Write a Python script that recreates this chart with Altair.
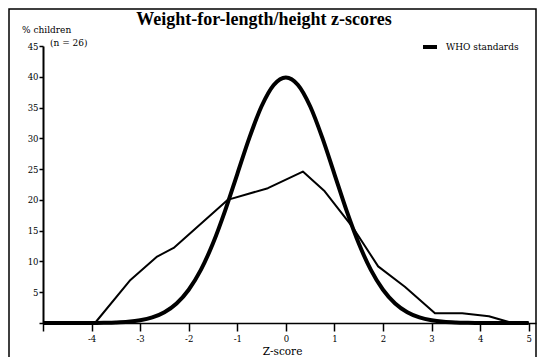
import altair as alt
import pandas as pd

# WHO standard curve (% children at each z-score)
who_z = [-5, -4.5, -4, -3.75, -3.5, -3.25, -3, -2.75, -2.5, -2.25, -2, -1.75, -1.5, -1.25,
         -1, -0.75, -0.5, -0.25, 0, 0.25, 0.5, 0.75, 1, 1.25, 1.5, 1.75, 2, 2.25, 2.5,
         2.75, 3, 3.25, 3.5, 3.75, 4, 4.5, 5]
who_v = [0, 0, 0.01, 0.04, 0.09, 0.2, 0.44, 0.91, 1.75, 3.17, 5.4, 8.63, 12.95, 18.26,
         24.2, 30.11, 35.21, 38.67, 39.89, 38.67, 35.21, 30.11, 24.2, 18.26, 12.95, 8.63, 5.4, 3.17, 1.75,
         0.91, 0.44, 0.2, 0.09, 0.04, 0.01, 0, 0]

# Sample curve (n = 26)
sample_z = [-5, -3.93, -3.2, -2.65, -2.31, -1.2, -0.37, 0.35, 0.8, 1.39, 1.9, 2.45, 3.07, 3.63, 4.18, 4.66, 5]
sample_v = [0, 0, 7.0, 10.8, 12.2, 20.0, 21.9, 24.6, 21.4, 15.4, 9.2, 5.9, 1.6, 1.6, 1.1, 0, 0]

x_ticks = [-5, -4, -3, -2, -1, 0, 1, 2, 3, 4, 5]
y_ticks = [0, 5, 10, 15, 20, 25, 30, 35, 40, 45]

FONT = "DejaVu Serif"
TFONT = "Liberation Serif"

who_df = pd.DataFrame({"z": who_z, "v": who_v, "series": "WHO standards"})
sample_df = pd.DataFrame({"z": sample_z, "v": sample_v, "series": "Sample"})

W, H = 493, 277

x_scale = alt.Scale(domain=[-5, 5.15], nice=False, zero=False)
y_scale = alt.Scale(domain=[0, 45], nice=False)
sw_scale = alt.Scale(domain=["WHO standards", "Sample"], range=[4, 2])

x_enc = alt.X("z:Q", scale=x_scale,
              axis=alt.Axis(values=x_ticks,
                            labelExpr="datum.value == -5 ? '' : '' + datum.value",
                            tickSize=8, tickWidth=1.5, domainWidth=1.5, domainColor="black",
                            tickColor="black", labelColor="black", labelFont=FONT, labelFontSize=8.5,
                            labelPadding=3, grid=False,
                            title="Z-score", titleFont=FONT, titleFontSize=10.5, titleFontWeight="normal",
                            titleColor="black", titleX=239, titleY=31, titleBaseline="alphabetic"))
y_enc = alt.Y("v:Q", scale=y_scale,
              axis=alt.Axis(values=y_ticks,
                            labelExpr="datum.value == 0 ? '' : '' + datum.value",
                            tickSize=4, tickWidth=1.5, domainWidth=2, domainColor="black",
                            tickColor="black", labelColor="black", labelFont=FONT, labelFontSize=8.5,
                            labelPadding=1, grid=False, title=None))

who_line = alt.Chart(who_df).mark_line(color="black", strokeJoin="round", interpolate="monotone").encode(
    x=x_enc, y=y_enc,
    strokeWidth=alt.StrokeWidth("series:N", scale=sw_scale,
                                legend=alt.Legend(values=["WHO standards"], title=None, orient="none",
                                                  legendX=378, legendY=-8, symbolType="stroke",
                                                  symbolSize=196, symbolStrokeColor="black",
                                                  labelFont=FONT, labelFontSize=9, labelColor="black",
                                                  labelOffset=7)),
)

sample_line = alt.Chart(sample_df).mark_line(color="black", strokeJoin="round").encode(
    x=x_enc, y=y_enc,
    strokeWidth=alt.StrokeWidth("series:N", scale=sw_scale),
)

one = pd.DataFrame({"a": [0]})

frame = alt.Chart(one).mark_rect(filled=False, stroke="black", strokeWidth=1.5).encode(
    x=alt.value(-34), x2=alt.value(493), y=alt.value(-37), y2=alt.value(330)
)

title = alt.Chart(one).mark_text(font=TFONT, fontSize=18, fontWeight="bold", color="black",
                                 align="center", baseline="alphabetic").encode(
    x=alt.value(221), y=alt.value(-21), text=alt.value("Weight-for-length/height z-scores"))

ylab1 = alt.Chart(one).mark_text(font=FONT, fontSize=9, color="black", align="left",
                                 baseline="alphabetic").encode(
    x=alt.value(-21), y=alt.value(-13), text=alt.value("% children"))

ylab2 = alt.Chart(one).mark_text(font=FONT, fontSize=9, color="black", align="left",
                                 baseline="alphabetic").encode(
    x=alt.value(7), y=alt.value(0), text=alt.value("(n = 26)"))

chart = alt.layer(frame, who_line, sample_line, title, ylab1, ylab2).properties(
    width=W, height=H,
    autosize=alt.AutoSizeParams(type="none"),
    padding={"left": 35, "top": 38, "right": 1, "bottom": 34},
    background="white",
).configure_view(stroke=None)

chart.save("out.html", embed_options={"renderer": "svg", "actions": False})
